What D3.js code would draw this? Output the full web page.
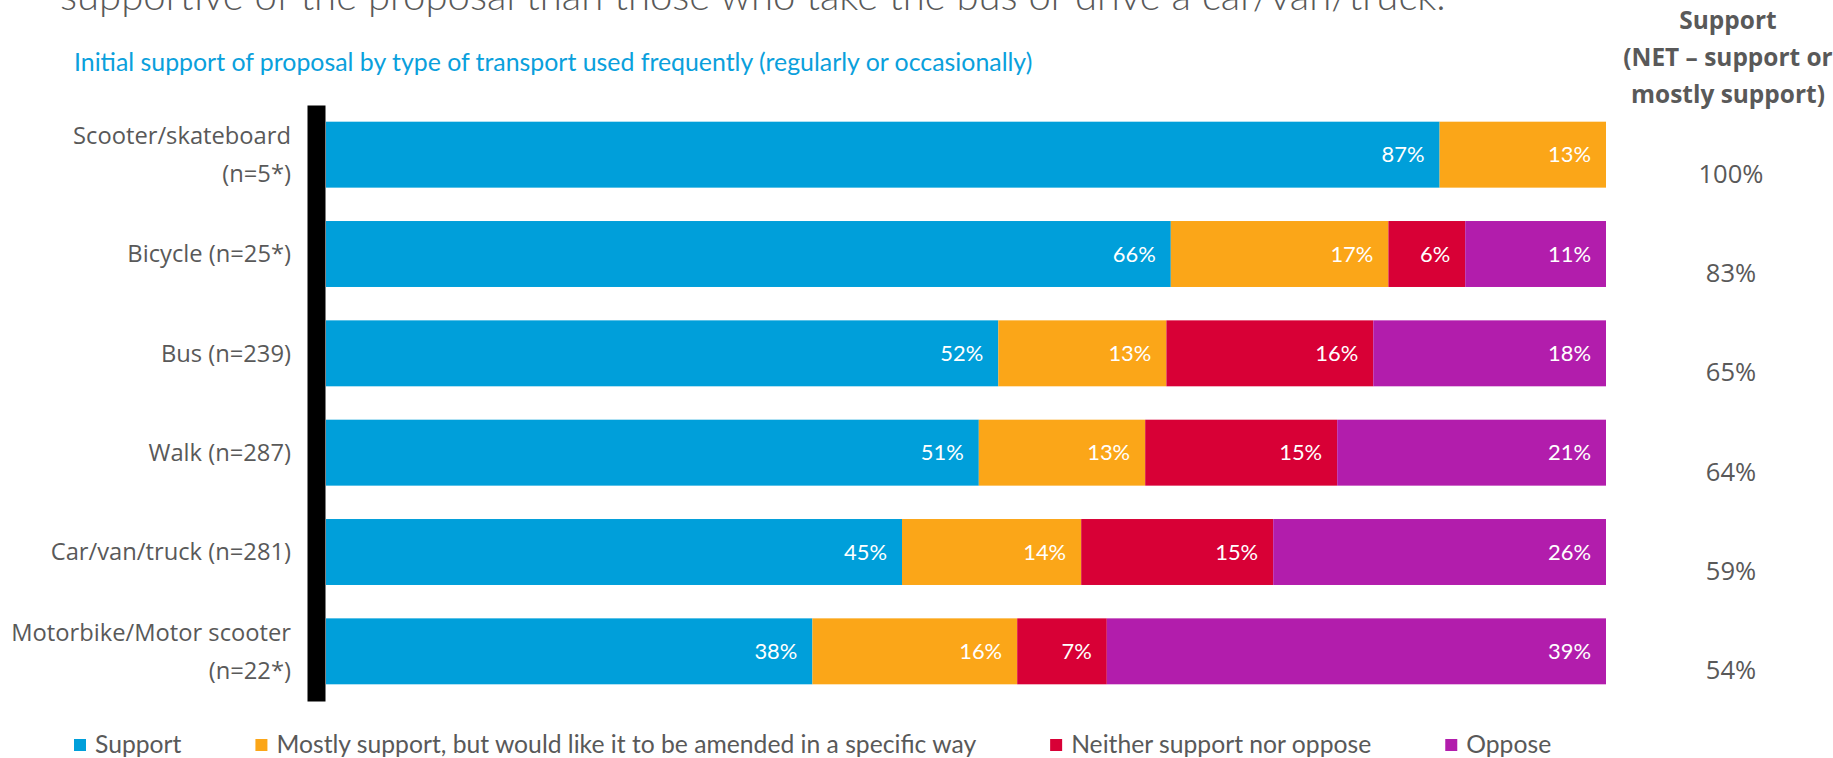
<!DOCTYPE html>
<html><head><meta charset="utf-8">
<script src="https://cdn.jsdelivr.net/npm/d3@7"></script>
<style>body{margin:0;background:#fff;overflow:hidden}</style>
</head><body>
<svg id="chart" width="1833" height="758"></svg>
<script>
// ---------- data ----------
const categories = ["Scooter/skateboard\n(n=5*)", "Bicycle (n=25*)", "Bus (n=239)", "Walk (n=287)", "Car/van/truck (n=281)", "Motorbike/Motor scooter\n(n=22*)"];
const seriesNames = ["Support", "Mostly support, but would like it to be amended in a specific way", "Neither support nor oppose", "Oppose"];
const support       = [87, 66, 52, 51, 45, 38];
const mostlySupport = [13, 17, 13, 13, 14, 16];
const neither       = [0, 6, 16, 15, 15, 7];
const oppose        = [0, 11, 18, 21, 26, 39];
const netSupport    = [100, 83, 65, 64, 59, 54];
const titleText = "supportive of the proposal than those who take the bus or drive a car/van/truck.";
const subtitleText = "Initial support of proposal by type of transport used frequently (regularly or occasionally)";
const netHeader = ["Support", "(NET \u2013 support or", "mostly support)"];
const colors = ["#009FDA", "#FBA618", "#D80036", "#B21DAC"];

// ---------- setup ----------
const svg = d3.select("#chart");
const grey = "#595959";
const calibriLike = "Lato, 'Open Sans', sans-serif";
const segoeLike = "'Open Sans', 'Noto Sans', sans-serif";

function fitSize(text, family, weight, target) {
  const t = svg.append("text").attr("font-family", family).attr("font-weight", weight)
    .attr("font-size", 20).text(text);
  const w = t.node().getComputedTextLength();
  t.remove();
  return 20 * target / w;
}

const keys = ["s0", "s1", "s2", "s3"];
const series = [support, mostlySupport, neither, oppose];
const rows = categories.map((c, i) => {
  const r = { cat: c };
  keys.forEach((k, j) => r[k] = series[j][i]);
  return r;
});
const stacked = d3.stack().keys(keys).offset(d3.stackOffsetExpand)(rows);

const x = d3.scaleLinear().domain([0, 1]).range([326, 1606]);
const y = d3.scaleBand().domain(categories).range([105, 701]).paddingInner(0.336).paddingOuter(0.168);

// ---------- title & subtitle ----------
const titleSize = fitSize(titleText, calibriLike, 300, 1386);
svg.append("text").attr("x", 60).attr("y", 10)
  .attr("font-family", calibriLike).attr("font-weight", 300)
  .attr("font-size", titleSize).attr("fill", grey).text(titleText);

const subSize = fitSize(subtitleText, calibriLike, 400, 959);
svg.append("text").attr("x", 74).attr("y", 71)
  .attr("font-family", calibriLike).attr("font-size", subSize)
  .attr("fill", "#0AA0DC").text(subtitleText);

// ---------- bars ----------
const layer = svg.append("g").selectAll("g").data(stacked).join("g")
  .attr("fill", (d, i) => colors[i]);
layer.selectAll("rect").data(d => d).join("rect")
  .attr("x", d => x(d[0]))
  .attr("y", d => y(d.data.cat))
  .attr("width", d => x(d[1]) - x(d[0]))
  .attr("height", y.bandwidth());

// data labels
const labelSize = fitSize("87%", calibriLike, 400, 43);
stacked.forEach((s, j) => {
  svg.append("g").selectAll("text").data(s.filter(d => d.data[s.key] > 0)).join("text")
    .attr("x", d => x(d[1]) - 15)
    .attr("y", d => y(d.data.cat) + y.bandwidth() / 2)
    .attr("dy", "0.35em")
    .attr("text-anchor", "end")
    .attr("font-family", calibriLike).attr("font-size", labelSize)
    .attr("fill", "#fff")
    .text(d => d.data[s.key] + "%");
});

// ---------- axis ----------
const catSize = Math.min(
  fitSize("Car/van/truck (n=281)", segoeLike, 400, 272),
  fitSize("Motorbike/Motor scooter", segoeLike, 400, 280));
const axisG = svg.append("g").attr("transform", "translate(316,0)")
  .call(d3.axisLeft(y).tickSize(0).tickSizeOuter(0).tickPadding(25));
axisG.select(".domain").attr("stroke", "#000").attr("stroke-width", 18);
axisG.selectAll(".tick text").each(function(d) {
  const t = d3.select(this);
  const lines = d.split("\n");
  t.text(null).attr("font-family", segoeLike).attr("font-size", catSize).attr("fill", grey)
    .attr("dy", null);
  const lh = 38;
  lines.forEach((ln, k) => {
    t.append("tspan").attr("x", -25)
      .attr("y", (k - (lines.length - 1) / 2) * lh)
      .attr("dy", "0.35em").text(ln);
  });
});

// ---------- NET column ----------
const hdrSize = fitSize("mostly support)", segoeLike, 700, 194);
svg.append("g").selectAll("text").data(netHeader).join("text")
  .attr("x", 1728).attr("y", (d, i) => 29 + i * 37)
  .attr("text-anchor", "middle")
  .attr("font-family", segoeLike).attr("font-weight", 700).attr("font-size", hdrSize)
  .attr("fill", grey).text(d => d);

const netSize = fitSize("100%", segoeLike, 400, 65);
svg.append("g").selectAll("text").data(netSupport).join("text")
  .attr("x", 1731)
  .attr("y", (d, i) => y(categories[i]) + y.bandwidth() / 2 + 19)
  .attr("dy", "0.35em")
  .attr("text-anchor", "middle")
  .attr("font-family", segoeLike).attr("font-size", netSize)
  .attr("fill", grey).text(d => d + "%");

// ---------- legend ----------
const legSize = fitSize(seriesNames[1], calibriLike, 400, 700);
let lx = 74;
const legend = svg.append("g");
seriesNames.forEach((name, i) => {
  legend.append("rect").attr("x", lx).attr("y", 739).attr("width", 12).attr("height", 12)
    .attr("fill", colors[i]);
  const t = legend.append("text").attr("x", lx + 21).attr("y", 753)
    .attr("font-family", calibriLike).attr("font-size", legSize).attr("fill", grey).text(name);
  lx = lx + 21 + t.node().getComputedTextLength() + 74;
});
</script>
</body></html>
